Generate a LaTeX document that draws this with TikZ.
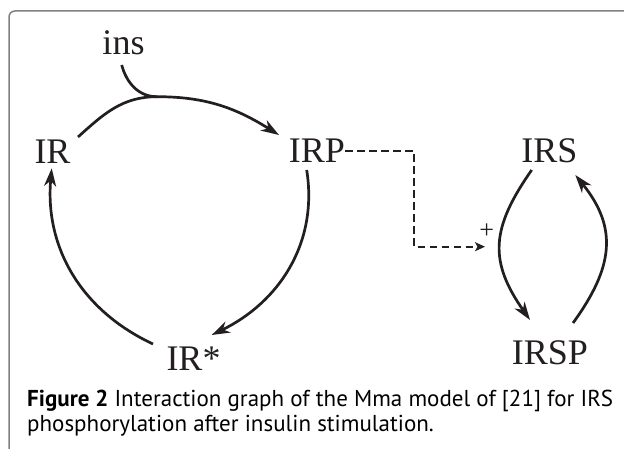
\documentclass[tikz,border=0pt]{standalone}
\usepackage{fontspec}
\setmainfont{Liberation Serif}
\newfontfamily\capfont{PT Sans}
\usetikzlibrary{arrows.meta}
\definecolor{ink}{RGB}{35,31,32}
\definecolor{framegray}{RGB}{128,128,128}
\tikzset{
  species/.style={anchor=base, inner sep=0pt, text=ink,
    font=\fontsize{36}{40}\selectfont},
  reaction/.style={draw=ink, line width=2.7pt,
    -{Stealth[length=18pt,width=12pt,inset=5.5pt]}},
  plainline/.style={draw=ink, line width=2.7pt},
  influence/.style={draw=ink, line width=2pt, dash pattern=on 7.5pt off 4.5pt,
    -{Stealth[length=10pt,width=9pt,inset=2.5pt]}},
  caption/.style={anchor=base west, inner sep=0pt, text=black,
    font=\capfont\fontsize{23}{25}\selectfont},
}
\begin{document}
\begin{tikzpicture}[x=1pt,y=1pt]
\useasboundingbox (0,0) rectangle (624,448);
\clip (0,0) rectangle (624,448);
\fill[white] (0,0) rectangle (624,448);

% panel border, open towards the right and bottom
\draw[framegray, line width=1.5pt, rounded corners=6pt]
  (9,-10) -- (9,437) -- (640,437);

% species
\node[species] (ins)    at (123.5,393) {ins};
\node[species] (ir)     at (52.5,284.7) {IR};
\node[species] (irp)    at (317,285) {IRP};
\node[species] (irstar) at (193.5,78) {IR*};
\node[species] (irs)    at (549.5,285) {IRS};
\node[species] (irsp)   at (550,84) {IRSP};
\node[anchor=center, inner sep=0pt, text=ink,
  font=\fontsize{26}{28}\selectfont] (plus) at (486.7,217) {+};

% junction where insulin joins the receptor phosphorylation
\coordinate (J) at (157,351.3);

% receptor cycle
\draw[plainline] ([shift={(25.5,26.3)}]ir.base) to[out=42,in=180] (J);
\draw[reaction] (J) to[out=0,in=148] ([shift={(-38,28)}]irp.base);
\draw[plainline] ([shift={(-1.8,-10)}]ins.base) to[out=-75,in=180] (J);
\draw[reaction] ([shift={(-10.3,-7)}]irp.base) to[out=-81,in=26]
  ([shift={(18.2,35)}]irstar.base);
\draw[reaction] ([shift={(-40.5,26)}]irstar.base) to[out=155,in=-95]
  ([shift={(-0.8,-5)}]ir.base);

% IRS phosphorylation cycle
\draw[reaction] ([shift={(-17.8,-7)}]irs.base) to[out=-125,in=125,looseness=1.22]
  ([shift={(-20,44)}]irsp.base);
\draw[reaction] ([shift={(23,41)}]irsp.base) to[out=54,in=-51,looseness=1.18]
  ([shift={(25.8,-12)}]irs.base);

% activating influence of IRP
\coordinate (bend) at (414,201.3);
\coordinate (acttip) at (485,201.3);
\draw[influence] (irp.east) -| (bend) -- (acttip);

% caption
\node[caption] (cap1) at (27,41.3)
  {\textbf{Figure 2} Interaction graph of the Mma model of [21] for IRS};
\node[caption] (cap2) at (27,16.3)
  {phosphorylation after insulin stimulation.};
\end{tikzpicture}
\end{document}
